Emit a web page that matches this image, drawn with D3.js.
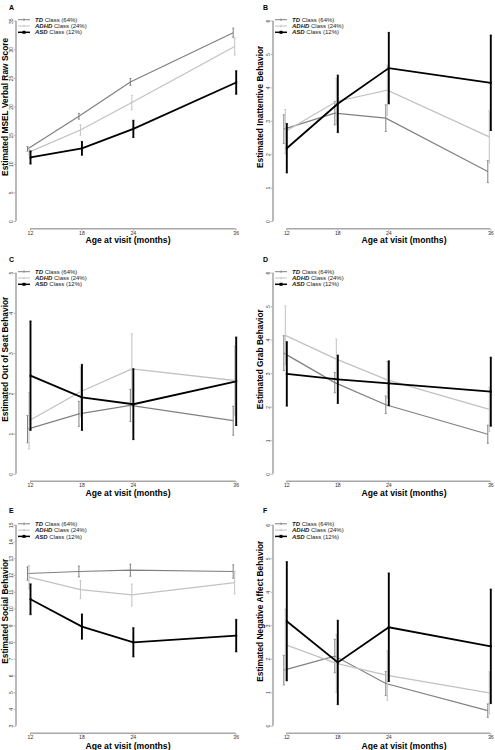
<!DOCTYPE html>
<html><head><meta charset="utf-8">
<script src="https://cdn.jsdelivr.net/npm/d3@7"></script>
<style>body{margin:0;background:#fff}svg{display:block}</style>
</head><body>
<svg id="chart" width="495" height="750"></svg>
<script>
// ---------------- DATA ----------------
const ages = [12, 18, 24, 36];
const classNames = ["TD", "ADHD", "ASD"];
const classPcts = ["64%", "24%", "12%"];
const panelLetters = ["A", "B", "C", "D", "E", "F"];
const yTitles = [
  "Estimated MSEL Verbal Raw Score",
  "Estimated Inattentive Behavior",
  "Estimated Out of Seat Behavior",
  "Estimated Grab Behavior",
  "Estimated Social Behavior",
  "Estimated Negative Affect Behavior"
];
const xTitle = "Age at visit (months)";

const yTicksA = [0, 5, 10, 15, 20, 25, 30, 35];
const yTicksB = [0, 1, 2, 3, 4, 5, 6];
const yTicksC = [0, 1, 2, 3, 4, 5];
const yTicksD = [0, 1, 2, 3, 4, 5, 6];
const yTicksE = [3, 4, 5, 6, 7, 8, 9, 10, 11, 12, 13, 14, 15];
const yTicksF = [0, 1, 2, 3, 4, 5, 6];

// A: MSEL verbal
const tdA = [12.6, 18.3, 24.3, 32.9],   tdErrA = [0.4, 0.5, 0.6, 0.8];
const adhdA = [12.05, 15.9, 20.7, 30.5], adhdErrA = [0.5, 0.9, 1.25, 1.5];
const asdA = [11.1, 12.7, 16.1, 24.2],  asdErrA = [1.15, 1.2, 1.5, 2.05];
// B: inattentive
const tdB = [2.75, 3.23, 3.08, 1.48],   tdErrB = [0.43, 0.35, 0.4, 0.33];
const adhdB = [2.68, 3.58, 3.92, 2.52], adhdErrB = [0.66, 0.69, 0.75, 0.78];
const asdB = [2.18, 3.51, 4.58, 4.14],  asdErrB = [0.74, 0.86, 1.07, 1.43];
// C: out of seat
const tdC = [1.11, 1.49, 1.70, 1.32],   tdErrC = [0.34, 0.31, 0.4, 0.36];
const adhdC = [1.32, 2.04, 2.61, 2.32], adhdErrC = [0.7, 0.62, 0.87, 0.86];
const asdC = [2.44, 1.9, 1.73, 2.30],   asdErrC = [1.36, 0.82, 0.88, 1.1];
// D: grab
const tdD = [3.6, 2.72, 2.06, 1.18],    tdErrD = [0.52, 0.3, 0.26, 0.27];
const adhdD = [4.13, 3.42, 2.8, 1.92],  adhdErrD = [0.88, 0.6, 0.55, 0.66];
const asdD = [2.98, 2.82, 2.7, 2.45],   asdErrD = [0.96, 0.72, 0.67, 1.03];
// E: social
const tdE = [12.09, 12.21, 12.29, 12.21], tdErrE = [0.4, 0.32, 0.36, 0.4];
const adhdE = [11.87, 11.13, 10.81, 11.55], adhdErrE = [0.69, 0.54, 0.65, 0.68];
const asdE = [10.55, 8.92, 7.98, 8.38], asdErrE = [0.92, 0.75, 0.87, 0.97];
// F: negative affect
const tdF = [1.66, 2.08, 1.26, 0.45],   tdErrF = [0.44, 0.5, 0.36, 0.2];
const adhdF = [2.42, 1.86, 1.5, 0.98],  adhdErrF = [1.06, 0.87, 0.74, 0.63];
const asdF = [3.12, 1.89, 2.94, 2.37],  asdErrF = [1.78, 1.26, 1.62, 1.71];

const panels = [
  {ticks: yTicksA, series: [[tdA, tdErrA], [adhdA, adhdErrA], [asdA, asdErrA]]},
  {ticks: yTicksB, series: [[tdB, tdErrB], [adhdB, adhdErrB], [asdB, asdErrB]]},
  {ticks: yTicksC, series: [[tdC, tdErrC], [adhdC, adhdErrC], [asdC, asdErrC]]},
  {ticks: yTicksD, series: [[tdD, tdErrD], [adhdD, adhdErrD], [asdD, asdErrD]]},
  {ticks: yTicksE, series: [[tdE, tdErrE], [adhdE, adhdErrE], [asdE, asdErrE]]},
  {ticks: yTicksF, series: [[tdF, tdErrF], [adhdF, adhdErrF], [asdF, asdErrF]]}
];

// ---------------- LAYOUT / STYLE ----------------
const FONT = "'Liberation Sans', Arial, sans-serif";
const cols = [
  {axisX: 16, x0: 30, x1: 235.7, letterX: 9, ytX: 7.8, xtX: 128},
  {axisX: 273, x0: 286.3, x1: 490.3, letterX: 263, ytX: 263, xtX: 404}
];
const rows = [
  {top: 20.7, bottom: 221, xAxisY: 228.7, letterY: 10, xtY: 243.3},
  {top: 272.7, bottom: 473.8, xAxisY: 481.3, letterY: 262, xtY: 496},
  {top: 524.8, bottom: 725.7, xAxisY: 733.3, letterY: 513, xtY: 749.2}
];
const colors = ["#808080", "#c2c2c2", "#000000"];
const lineW = [1.2, 1.3, 1.8];
const barW = [1.0, 1.0, 1.9];
const dodge = [-2.5, -1, 0.5];
const axisColor = "#a8a8a8";

const svg = d3.select("#chart");

panels.forEach((p, i) => {
  const col = cols[i % 2], row = rows[Math.floor(i / 2)];
  const g = svg.append("g");
  const x = d3.scaleLinear().domain([ages[0], ages[ages.length - 1]]).range([col.x0, col.x1]);
  const y = d3.scaleLinear().domain([p.ticks[0], p.ticks[p.ticks.length - 1]]).range([row.bottom, row.top]);

  // y axis
  const ya = g.append("g").attr("transform", `translate(${col.axisX},0)`)
    .call(d3.axisLeft(y).tickValues(p.ticks).tickSize(2.3).tickFormat(d3.format("d")));
  ya.select(".domain").attr("d", `M0,${y(p.ticks[0])}V${y(p.ticks[p.ticks.length-1])}`)
    .attr("stroke", axisColor).attr("stroke-width", 1.6);
  ya.selectAll(".tick line").attr("stroke", axisColor).attr("stroke-width", 0.8);
  ya.selectAll(".tick text").attr("font-family", FONT).attr("font-size", 5).attr("fill", "#333")
    .attr("text-anchor", "middle").attr("dy", 0)
    .attr("transform", "rotate(-90)").attr("x", 0).attr("y", -3.4);

  // x axis
  const xa = g.append("g").attr("transform", `translate(0,${row.xAxisY})`)
    .call(d3.axisBottom(x).tickValues(ages).tickSize(2).tickPadding(0.3).tickFormat(d3.format("d")));
  xa.select(".domain").attr("d", `M${x(ages[0])},0H${x(ages[ages.length-1])}`)
    .attr("stroke", axisColor).attr("stroke-width", 1.6);
  xa.selectAll(".tick line").attr("stroke", axisColor).attr("stroke-width", 0.8);
  xa.selectAll(".tick text").attr("font-family", FONT).attr("font-size", 5.2).attr("fill", "#333");

  // series
  p.series.forEach(([means, errs], s) => {
    const pts = ages.map((a, k) => ({a, m: means[k], e: errs[k]}));
    g.append("path").datum(pts)
      .attr("fill", "none").attr("stroke", colors[s]).attr("stroke-width", lineW[s])
      .attr("d", d3.line().x(d => x(d.a) + dodge[s]).y(d => y(d.m)));
    const eb = g.append("g");
    pts.forEach(d => {
      const cx = x(d.a) + dodge[s];
      eb.append("line").attr("x1", cx).attr("x2", cx).attr("y1", y(d.m - d.e)).attr("y2", y(d.m + d.e))
        .attr("stroke", colors[s]).attr("stroke-width", barW[s]);
      [d.m - d.e, d.m + d.e].forEach(v => {
        eb.append("line").attr("x1", cx - 1.1).attr("x2", cx + 1.1).attr("y1", y(v)).attr("y2", y(v))
          .attr("stroke", colors[s]).attr("stroke-width", 0.8);
      });
      if (s === 2) {
        eb.append("rect").attr("x", cx - 1).attr("y", y(d.m) - 1).attr("width", 2).attr("height", 2).attr("fill", colors[s]);
      }
    });
  });

  // legend
  const lx = col.axisX + 2, ly0 = row.top - 1;
  classNames.forEach((nm, s) => {
    const yy = ly0 + s * 6.3;
    g.append("line").attr("x1", lx).attr("x2", lx + 12).attr("y1", yy).attr("y2", yy)
      .attr("stroke", colors[s]).attr("stroke-width", s === 2 ? 1.5 : 1);
    if (s === 2) {
      g.append("rect").attr("x", lx + 4.5).attr("y", yy - 1.5).attr("width", 3).attr("height", 3).attr("fill", colors[s]);
    } else {
      g.append("line").attr("x1", lx + 6).attr("x2", lx + 6).attr("y1", yy - 1.3).attr("y2", yy + 1.3)
        .attr("stroke", colors[s]).attr("stroke-width", 0.8);
    }
    const t = g.append("text").attr("x", lx + 17).attr("y", yy + 2.1)
      .attr("font-family", FONT).attr("font-size", 6).attr("fill", "#222");
    t.append("tspan").attr("font-style", "italic").attr("font-weight", "bold").text(nm);
    t.append("tspan").text(` Class (${classPcts[s]})`);
  });

  // panel letter
  g.append("text").attr("x", col.letterX).attr("y", row.letterY)
    .attr("font-family", FONT).attr("font-size", 7).attr("font-weight", "bold").text(panelLetters[i]);

  // axis titles
  g.append("text").attr("x", col.xtX).attr("y", row.xtY).attr("text-anchor", "middle")
    .attr("font-family", FONT).attr("font-size", 8.6).attr("font-weight", "bold").text(xTitle);
  const yc = (row.top + row.bottom) / 2 - 14;
  g.append("text").attr("transform", `translate(${col.ytX},${yc}) rotate(-90)`).attr("text-anchor", "middle")
    .attr("font-family", FONT).attr("font-size", 8.4).attr("font-weight", "bold").text(yTitles[i]);
});
</script>
</body></html>
